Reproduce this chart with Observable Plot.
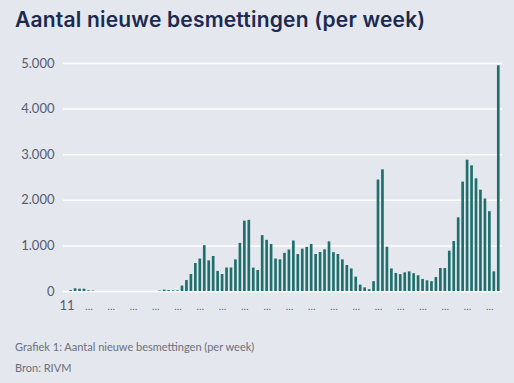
<!DOCTYPE html>
<html>
<head>
<meta charset="utf-8">
<script src="https://cdn.jsdelivr.net/npm/d3@7"></script>
<script src="https://cdn.jsdelivr.net/npm/@observablehq/plot@0.6"></script>
<style>
  html, body { margin: 0; padding: 0; background: #e4e7ee; }
  body { width: 514px; height: 383px; position: relative; overflow: hidden; }
  #title { position: absolute; left: 15px; top: 9px; font-family: Inter, sans-serif; font-weight: 600; font-size: 21px; letter-spacing: 0.2px; line-height: 21px; color: #1b2a4e; white-space: nowrap; }
  #chart { position: absolute; left: 0; top: 40px; }
  .cap { position: absolute; left: 15px; font-family: Lato, sans-serif; font-size: 11px; line-height: 12px; color: #6a6f7c; white-space: nowrap; }
</style>
</head>
<body>
<div id="title">Aantal nieuwe besmettingen (per week)</div>
<div id="chart"></div>
<div class="cap" style="top:341px">Grafiek 1: Aantal nieuwe besmettingen (per week)</div>
<div class="cap" style="top:362px">Bron: RIVM</div>
<script>
// Categories: ISO weeks from 2020 week 11 up to 2022 week 2
const weeks = [];
for (let w = 11; w <= 53; w++) weeks.push("2020-" + w);
for (let w = 1; w <= 52; w++) weeks.push("2021-" + w);
for (let w = 1; w <= 2; w++) weeks.push("2022-" + w);

// New infections per week
const cases = [
  20, 60, 50, 50, 15, 10, 0, 0, 0, 0,
  0, 0, 0, 0, 0, 0, 0, 0, 0, 0,
  10, 30, 20, 15, 15, 120, 240, 373, 614, 712,
  1005, 672, 768, 440, 373, 515, 515, 694, 1055, 1542,
  1560, 512, 460, 1225, 1122, 1031, 712, 694, 836, 910,
  1107, 811, 928, 968, 1031, 811, 855, 914, 1089, 852,
  811, 694, 570, 495, 315, 140, 80, 40, 215, 2445,
  2668, 972, 495, 395, 370, 409, 431, 390, 345, 265,
  234, 215, 307, 504, 504, 884, 1096, 1615, 2400, 2880,
  2756, 2471, 2222, 2028, 1750, 431, 4950
];

// Axis ticks
const yTicks = [0, 1000, 2000, 3000, 4000, 5000];
const firstTickLabel = "11";
const ellipsisTickIdx = [4, 9, 14, 19, 24, 29, 34, 39, 44, 49, 54, 59, 64, 69, 74, 79, 84, 89, 94];
const ellipsisLabel = "…";

const data = weeks.map((w, i) => ({week: w, cases: cases[i]}));
const nl = d3.formatLocale({decimal: ",", thousands: ".", grouping: [3], currency: ["€", ""]});
const fmt = nl.format(",");

const chart = Plot.plot({
  width: 514,
  height: 290,
  marginLeft: 63,
  marginRight: 12,
  marginTop: 23,
  marginBottom: 39,
  style: {background: "transparent", fontFamily: "Lato, sans-serif", fontSize: "13px", color: "#555c6e"},
  x: {domain: weeks, range: [67.5, 501.4], padding: 0.4, axis: null},
  y: {domain: [0, 5000], axis: null},
  marks: [
    Plot.ruleY(yTicks, {stroke: "#ffffff", strokeWidth: 1.5}),
    Plot.barY(data, {x: "week", y: "cases", fill: "#1f6f6c"}),
    Plot.axisY({ticks: yTicks, tickSize: 0, tickPadding: 9, tickFormat: fmt, fontSize: 13, fill: "#555c6e", label: null}),
    Plot.axisX({ticks: ellipsisTickIdx.map(i => weeks[i]), tickSize: 0, tickPadding: 11, tickFormat: () => ellipsisLabel, fontSize: 10, fill: "#555c6e", label: null}),
    Plot.axisX({ticks: [weeks[0]], tickSize: 0, tickPadding: 9, tickFormat: () => firstTickLabel, fontSize: 13, dx: -4, fill: "#555c6e", label: null})
  ]
});
document.getElementById("chart").appendChild(chart);
</script>
</body>
</html>
